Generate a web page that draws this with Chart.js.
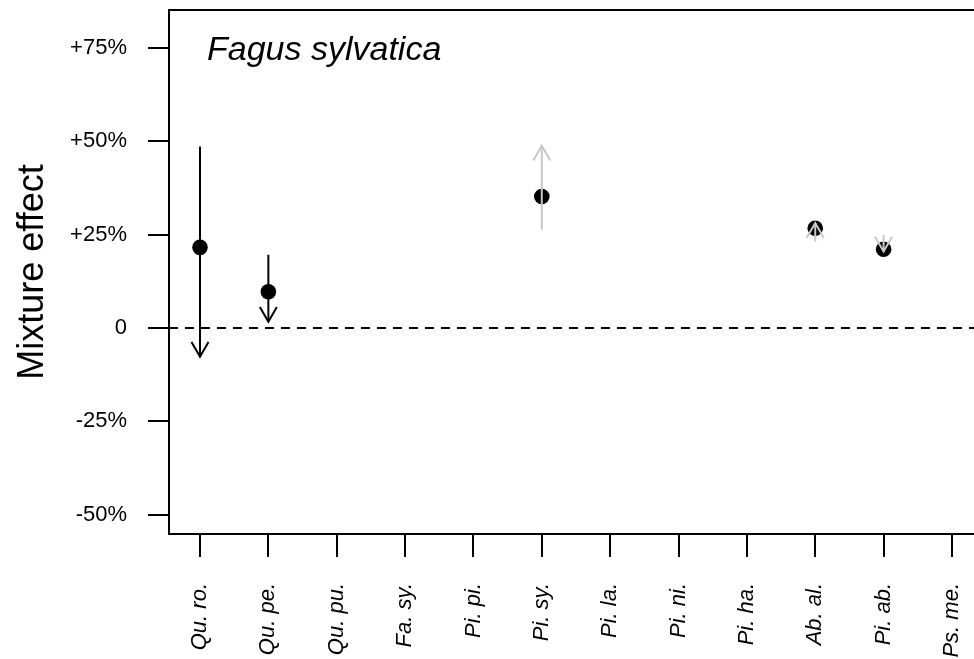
<!DOCTYPE html>
<html>
<head>
<meta charset="utf-8">
<script src="https://cdn.jsdelivr.net/npm/chart.js@4.4.1/dist/chart.umd.min.js"></script>
<style>
  html, body { margin: 0; padding: 0; background: #fff; overflow: hidden; }
  #wrap { width: 974px; height: 659px; position: relative; }
</style>
</head>
<body>
<div id="wrap"><canvas id="myChart"></canvas></div>
<script>
// species on the x axis
const species = ['Qu. ro.', 'Qu. pe.', 'Qu. pu.', 'Fa. sy.', 'Pi. pi.', 'Pi. sy.',
                 'Pi. la.', 'Pi. ni.', 'Pi. ha.', 'Ab. al.', 'Pi. ab.', 'Ps. me.'];
// mixture effect estimate (%), null = no data
const estimate  = [21.6, 9.7, null, null, null, 35.2, null, null, null, 26.7, 21.1, null];
// arrow start and end (%)
const arrowFrom = [48.6, 19.6, null, null, null, 26.3, null, null, null, 23.2, 24.9, null];
const arrowTo   = [-7.7, 1.7, null, null, null, 48.8, null, null, null, 28.1, 20.5, null];
// significant -> black arrow, otherwise grey
const significant = [true, true, null, null, null, false, null, null, null, false, false, null];
const yTicks = [-50, -25, 0, 25, 50, 75];
const panelTitle = 'Fagus sylvatica';

const GREY = '#c8c8c8';
const FONT = "'Liberation Sans', Arial, sans-serif";

const datasets = [];
// arrow shafts
species.forEach((s, i) => {
  if (arrowFrom[i] == null) return;
  datasets.push({
    type: 'line',
    data: [{ x: i + 1, y: arrowFrom[i] }, { x: i + 1, y: arrowTo[i] }],
    borderColor: significant[i] ? '#000' : GREY,
    borderWidth: 2,
    pointRadius: 0,
    order: 1
  });
});
// points
datasets.push({
  type: 'scatter',
  data: estimate.map((v, i) => v == null ? null : { x: i + 1, y: v }).filter(p => p),
  backgroundColor: '#000',
  borderWidth: 0,
  pointRadius: 7.8,
  order: 2
});

const decorations = {
  id: 'decorations',
  beforeDatasetsDraw(chart) {
    const { ctx, chartArea: a, scales: { y } } = chart;
    const y0 = y.getPixelForValue(0);
    ctx.save();
    ctx.strokeStyle = '#000';
    ctx.lineWidth = 2;
    ctx.setLineDash([9, 7]);
    ctx.beginPath();
    ctx.moveTo(a.left, y0);
    ctx.lineTo(a.right, y0);
    ctx.stroke();
    ctx.restore();
  },
  afterDatasetsDraw(chart) {
    const { ctx, scales: { x, y } } = chart;
    ctx.save();
    ctx.lineWidth = 2;
    species.forEach((s, i) => {
      if (arrowFrom[i] == null) return;
      const px = x.getPixelForValue(i + 1);
      const y1 = y.getPixelForValue(arrowFrom[i]);
      const y2 = y.getPixelForValue(arrowTo[i]);
      const ang = Math.atan2(y2 - y1, 0);
      const len = 17;
      ctx.strokeStyle = significant[i] ? '#000' : GREY;
      ctx.beginPath();
      ctx.moveTo(px - len * Math.cos(ang - Math.PI / 6), y2 - len * Math.sin(ang - Math.PI / 6));
      ctx.lineTo(px, y2);
      ctx.lineTo(px - len * Math.cos(ang + Math.PI / 6), y2 - len * Math.sin(ang + Math.PI / 6));
      ctx.stroke();
    });
    ctx.restore();
  },
  afterDraw(chart) {
    const { ctx, chartArea: a } = chart;
    ctx.save();
    ctx.strokeStyle = '#000';
    ctx.lineWidth = 2;
    ctx.beginPath();
    ctx.moveTo(a.right + 2, a.top);
    ctx.lineTo(a.left, a.top);
    ctx.lineTo(a.left, a.bottom);
    ctx.lineTo(a.right + 2, a.bottom);
    ctx.stroke();
    ctx.fillStyle = '#000';
    ctx.font = 'italic 34px ' + FONT;
    ctx.textBaseline = 'alphabetic';
    ctx.fillText(panelTitle, a.left + 38, a.top + 50);
    ctx.restore();
  }
};

new Chart(document.getElementById('myChart'), {
  data: { datasets: datasets },
  options: {
    responsive: true,
    maintainAspectRatio: false,
    animation: false,
    layout: { autoPadding: false, padding: { top: 10, right: 0, left: 0, bottom: 0 } },
    plugins: { legend: { display: false }, tooltip: { enabled: false } },
    scales: {
      x: {
        type: 'linear',
        min: 0.5465,
        max: 12.3225,
        border: { display: false },
        grid: { drawOnChartArea: false, tickLength: 23, color: '#000', lineWidth: 2 },
        ticks: {
          color: '#000',
          font: { family: FONT, size: 22, style: 'italic' },
          minRotation: 90,
          maxRotation: 90,
          padding: 26,
          autoSkip: false,
          callback: v => species[v - 1]
        },
        afterBuildTicks: s => { s.ticks = species.map((n, i) => ({ value: i + 1 })); },
        afterFit: s => { s.height = 125; s.paddingLeft = 0; s.paddingRight = 0; }
      },
      y: {
        type: 'linear',
        min: -55.18,
        max: 85.18,
        border: { display: false },
        grid: { drawOnChartArea: false, tickLength: 21, color: '#000', lineWidth: 2 },
        ticks: {
          color: '#000',
          font: { family: FONT, size: 22 },
          padding: 21,
          callback: v => v === 0 ? '0' : (v > 0 ? '+' : '') + v + '%'
        },
        afterBuildTicks: s => { s.ticks = yTicks.map(v => ({ value: v })); },
        afterFit: s => { s.width = 169; s.paddingTop = 0; s.paddingBottom = 0; },
        title: {
          display: true,
          text: 'Mixture effect',
          color: '#000',
          font: { family: FONT, size: 36 },
          padding: { top: 11, bottom: 0 }
        }
      }
    }
  },
  plugins: [decorations]
});
</script>
</body>
</html>
